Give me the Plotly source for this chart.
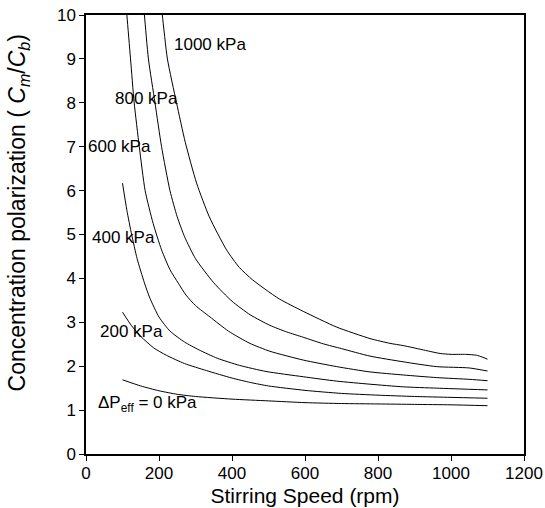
#!/usr/bin/env python3
#
# Concentration polarization vs stirring speed at several effective pressures

import plotly.graph_objects as go
import sys


# Curve data (stirring speed rpm, Cm/Cb)
pressures = ["0", "200", "400", "600", "800", "1000"]

speed_0 = [100, 150, 200, 250, 300, 400, 500, 600, 700, 800, 900, 1000, 1100]
cp_0 = [1.69, 1.55, 1.44, 1.36, 1.31, 1.25, 1.21, 1.17, 1.15, 1.14, 1.13, 1.12, 1.10]

speed_200 = [100, 125, 150, 185, 220, 270, 330, 400, 450, 500, 600, 700, 800, 900, 1000, 1100]
cp_200 = [3.23, 2.92, 2.68, 2.42, 2.25, 2.06, 1.90, 1.73, 1.63, 1.55, 1.45, 1.38, 1.34, 1.31, 1.29, 1.27]

speed_400 = [100, 112, 125, 140, 160, 175, 200, 230, 270, 310, 360, 420, 493, 595, 687, 778, 869, 961, 1100]
cp_400 = [6.17, 5.55, 5.00, 4.45, 3.90, 3.55, 3.12, 2.80, 2.55, 2.37, 2.18, 2.02, 1.88, 1.76, 1.66, 1.59, 1.53, 1.50, 1.46]

speed_600 = [100, 112, 122, 132, 146, 162, 184, 207, 230, 253, 274, 300, 340, 390, 449, 504, 595, 687, 778, 869, 961, 1052, 1100]
cp_600 = [11.2, 10.0, 9.0, 8.0, 7.0, 6.0, 5.25, 4.65, 4.20, 3.89, 3.62, 3.38, 3.12, 2.80, 2.52, 2.34, 2.14, 1.99, 1.87, 1.80, 1.74, 1.70, 1.67]

speed_800 = [150, 160, 171, 189, 207, 230, 250, 270, 300, 350, 400, 450, 504, 550, 595, 650, 700, 778, 869, 961, 1050, 1100]
cp_800 = [10.9, 10.0, 9.0, 8.0, 7.0, 6.0, 5.4, 4.95, 4.45, 3.90, 3.48, 3.17, 2.93, 2.78, 2.66, 2.51, 2.40, 2.23, 2.10, 1.99, 1.96, 1.89]

speed_1000 = [200, 209, 223, 248, 272, 303, 338, 385, 420, 456, 493, 530, 595, 687, 778, 833, 869, 930, 970, 1000, 1040, 1070, 1085, 1100]
cp_1000 = [10.6, 10.0, 9.0, 8.0, 7.1, 6.17, 5.4, 4.65, 4.25, 3.97, 3.74, 3.53, 3.25, 2.89, 2.63, 2.52, 2.47, 2.36, 2.29, 2.27, 2.27, 2.25, 2.21, 2.16]

# Curve labels: text, x, y
label_text = ["\u0394P<sub>eff</sub> = 0 kPa", "200 kPa", "400 kPa", "600 kPa", "800 kPa", "1000 kPa"]
label_x = [28, 33, 11, 0, 74, 236]
label_y = [1.15, 2.79, 4.94, 7.0, 8.09, 9.32]

FONT = "Arial, Liberation Sans, Helvetica, sans-serif"


def main():
  curves = [(speed_0, cp_0), (speed_200, cp_200), (speed_400, cp_400),
            (speed_600, cp_600), (speed_800, cp_800), (speed_1000, cp_1000)]

  fig = go.Figure()
  for p, (xs, ys) in zip(pressures, curves):
    fig.add_trace(go.Scatter(x=xs, y=ys, mode="lines", name="{} kPa".format(p),
                             line=dict(color="black", width=1, shape="spline", smoothing=0.6)))

  for t, lx, ly in zip(label_text, label_x, label_y):
    fig.add_annotation(x=lx, y=ly, text=t, showarrow=False, xanchor="left", yanchor="middle",
                       font=dict(family=FONT, size=17, color="black"))

  # y title as a rotated annotation so it can sit like the original
  fig.add_annotation(xref="paper", yref="paper", x=-0.152, y=0.549, textangle=-90,
                     text="Concentration polarization ( <i>C<sub>m</sub></i>/<i>C<sub>b</sub></i>)",
                     showarrow=False, xanchor="center", yanchor="middle",
                     font=dict(family=FONT, size=23, color="black"))

  axis_common = dict(showgrid=False, zeroline=False, showline=True, linecolor="black", linewidth=1.5,
                     mirror=True, ticks="outside", ticklen=5, tickwidth=1.2, tickcolor="black",
                     automargin=False, ticklabeloverflow="allow",
                     tickfont=dict(family=FONT, size=17, color="black"))

  fig.update_xaxes(range=[0, 1200], dtick=200, tick0=0, ticklabelstandoff=-2,
                   title=dict(text="Stirring Speed (rpm)", font=dict(family=FONT, size=21, color="black"), standoff=6),
                   **axis_common)
  fig.update_yaxes(range=[0, 10], dtick=1, tick0=0, **axis_common)

  fig.update_layout(width=545, height=508, showlegend=False,
                    plot_bgcolor="white", paper_bgcolor="white",
                    margin=dict(l=86, r=21, t=15, b=54))
  # drop the default 8px body margin so the figure fills the window exactly
  fig.write_html("out.html", config={"displayModeBar": False},
                 post_script="document.body.style.margin = '0';")


if __name__ == "__main__":
  sys.exit(main())
